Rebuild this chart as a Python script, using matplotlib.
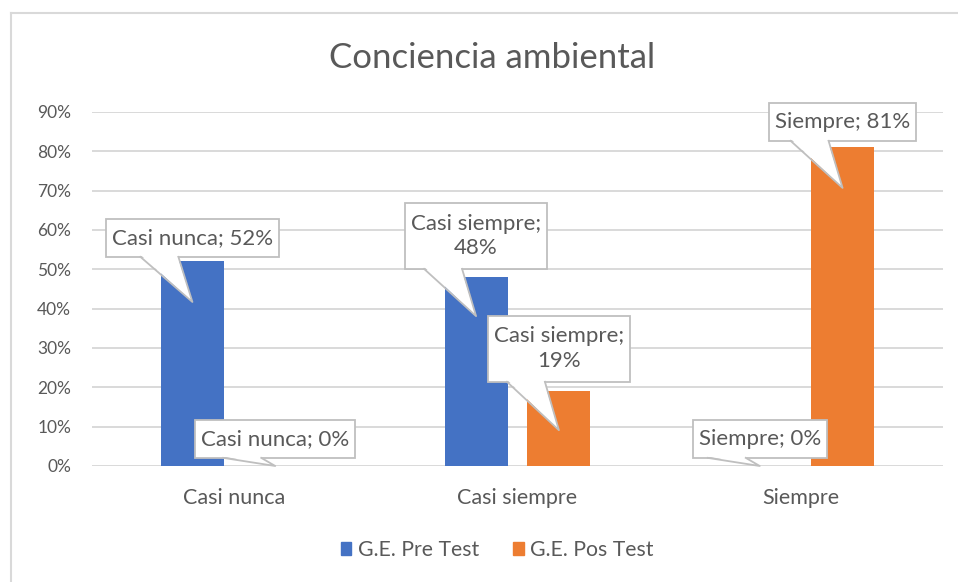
import numpy as np
import matplotlib.pyplot as plt
from matplotlib.lines import Line2D
from matplotlib.patches import Patch, Polygon, Rectangle
from matplotlib.transforms import IdentityTransform
from matplotlib.ticker import PercentFormatter

plt.rcParams['font.family'] = ['Lato', 'DejaVu Sans']

categorias = ['Casi nunca', 'Casi siempre', 'Siempre']
series = ['G.E. Pre Test', 'G.E. Pos Test']
pre_test = [0.52, 0.48, 0.0]
pos_test = [0.0, 0.19, 0.81]
titulo = 'Conciencia ambiental'

# posicion de las etiquetas (centro del recuadro y punta del globo)
texto_y_pre = [0.580, 0.585, 0.069]
punta_y_pre = [0.417, 0.381, 0.0]
texto_y_pos = [0.069, 0.298, 0.875]
punta_y_pos = [0.0, 0.091, 0.707]
partir = [False, True, False]

colores = ['#4472C4', '#ED7D31']
gris = '#595959'
borde = '#bfbfbf'

fig = plt.figure(figsize=(9.58, 5.82), dpi=100)
ax = fig.add_axes([92 / 958, 1 - 466 / 582, (943 - 92) / 958, (466 - 112) / 582])

x = np.arange(len(categorias))
ancho = 0.222
desp = 0.146
ax.bar(x - desp, pre_test, ancho, color=colores[0], zorder=2)
ax.bar(x + desp, pos_test, ancho, color=colores[1], zorder=2)

ax.set_xlim(-0.5, len(categorias) - 0.5)
ax.set_ylim(0, 0.9)
ax.set_yticks(np.arange(0, 0.91, 0.1))
ax.yaxis.set_major_formatter(PercentFormatter(1.0, decimals=0))
ax.set_xticks(x)
ax.set_xticklabels(categorias)
ax.grid(axis='y', color='#d9d9d9', linewidth=1.4, zorder=0)
ax.set_axisbelow(True)
for s in ax.spines.values():
    s.set_visible(False)
ax.tick_params(length=0, colors=gris, labelsize=12.5)
ax.tick_params(axis='x', labelsize=15.5, pad=16)
ax.tick_params(axis='y', pad=15)

globos = []
def globo(xb, val, ty, py, cat, wrap):
    sep = '\n' if wrap else ' '
    txt = f'{cat};{sep}{val:.0%}'
    t = ax.text(xb, ty, txt, ha='center', va='center', fontsize=16, color=gris,
                zorder=6, linespacing=1.3, clip_on=False)
    globos.append((t, xb, py, wrap))

for i, cat in enumerate(categorias):
    globo(x[i] - desp, pre_test[i], texto_y_pre[i], punta_y_pre[i], cat, partir[i])
    globo(x[i] + desp, pos_test[i], texto_y_pos[i], punta_y_pos[i], cat, partir[i])

fig.text(492 / 958, 1 - 58 / 582, titulo, ha='center', va='center', fontsize=25, color=gris)

handles = [Patch(color=c) for c in colores]
fig.legend(handles, series, loc='center', bbox_to_anchor=(497 / 958, 1 - 550 / 582),
           ncol=2, frameon=False, fontsize=15.3, labelcolor=gris,
           handlelength=0.5, handleheight=0.5, handletextpad=0.3, columnspacing=1.6)

# borde del area del grafico
fig.add_artist(Line2D([11 / 958, 11 / 958], [0, 1 - 13 / 582], transform=fig.transFigure,
                      color='#d9d9d9', lw=1.5))
fig.add_artist(Line2D([11 / 958, 1], [1 - 13 / 582, 1 - 13 / 582], transform=fig.transFigure,
                      color='#d9d9d9', lw=1.5))

# recuadro y punta de los globos (en pixeles, despues de dibujar el texto)
fig.canvas.draw()
rend = fig.canvas.get_renderer()
ident = IdentityTransform()
for t, xb, py, wrap in globos:
    ext = t.get_window_extent(rend)
    cx, cy = (ext.x0 + ext.x1) / 2, (ext.y0 + ext.y1) / 2
    w = ext.width + 12
    h = 66 if wrap else 38
    y0 = cy - h / 2
    caja = Rectangle((cx - w / 2, y0), w, h, fc='white', ec=borde, lw=1.3,
                     transform=ident, zorder=4)
    ax.add_patch(caja)
    caja.set_clip_on(False)
    px, pyd = ax.transData.transform((xb, py))
    izq, der = px - 52, px - 14
    tri = Polygon([(izq + 1, y0 + 1.2), (px, pyd), (der - 1, y0 + 1.2)],
                  closed=True, fc='white', ec='none', transform=ident, zorder=4.5)
    ax.add_patch(tri)
    tri.set_clip_on(False)
    lado = Line2D([izq, px, der], [y0, pyd, y0], color=borde, lw=1.3,
                  transform=ident, zorder=4.6)
    ax.add_line(lado)
    lado.set_clip_on(False)

fig.savefig('out.png', dpi=100)
